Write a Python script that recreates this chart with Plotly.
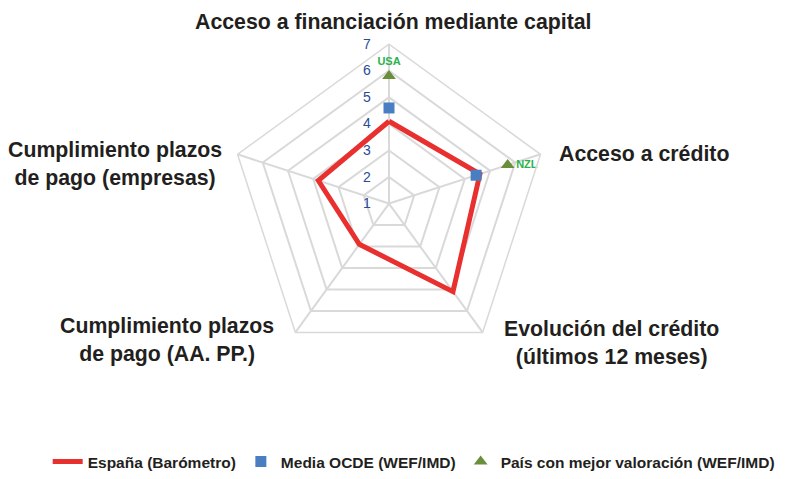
import plotly.graph_objects as go

# --- data ---
categories = [
    "Acceso a financiación mediante capital",
    "Acceso a crédito",
    "Evolución del crédito<br>(últimos 12 meses)",
    "Cumplimiento plazos<br>de pago (AA. PP.)",
    "Cumplimiento plazos<br>de pago (empresas)",
]
espana = [4.1, 4.6, 5.1, 2.9, 3.8]
ocde_cats = categories[:2]
ocde = [4.6, 4.45]
mejor_cats = categories[:2]
mejor = [5.8, 5.7]
mejor_pais = ["USA", "NZL"]
radial_ticks = [1, 2, 3, 4, 5, 6, 7]

# label placement (pixel centre in a 785x479 page)
W, H = 785, 479
label_pos = [(393, 22, "center"), (557, 157, "left"), (611, 349, "center"),
             (167, 346, "center"), (115, 167, "center")]

GRID = "#d9d9d9"
TEXT = "#231f20"
FONT = "Liberation Sans, Arial, sans-serif"

fig = go.Figure()

fig.add_trace(go.Scatterpolar(
    r=espana + espana[:1],
    theta=categories + categories[:1],
    mode="lines",
    line=dict(color="#e8302f", width=5),
    name="España (Barómetro)",
))

fig.add_trace(go.Scatterpolar(
    r=ocde,
    theta=ocde_cats,
    mode="markers",
    marker=dict(symbol="square", size=11, color="#4a7ec2"),
    name="Media OCDE (WEF/IMD)",
))

fig.add_trace(go.Scatterpolar(
    r=mejor,
    theta=mejor_cats,
    mode="markers+text",
    text=mejor_pais,
    textposition=["top center", "middle right"],
    textfont=dict(color="#2bb24c", size=11, family=FONT, weight="bold"),
    marker=dict(symbol="triangle-up", size=12, color="#6a8f3c"),
    name="País con mejor valoración (WEF/IMD)",
))

# centre (389, 207), radius 162 px
cx, cy, rad = 389, 207, 162
pad = "\u00a0" * 4  # push the radial numbers off the vertical spoke
fig.update_layout(
    width=W, height=H,
    margin=dict(l=0, r=0, t=0, b=0),
    paper_bgcolor="white",
    font=dict(family=FONT, color=TEXT),
    polar=dict(
        domain=dict(x=[(cx - rad) / W, (cx + rad) / W],
                    y=[(H - cy - rad) / H, (H - cy + rad) / H]),
        bgcolor="white",
        gridshape="linear",
        angularaxis=dict(
            rotation=90, direction="clockwise",
            showticklabels=False, ticks="",
            gridcolor=GRID, linecolor=GRID, gridwidth=1.5, linewidth=1.5,
        ),
        radialaxis=dict(
            range=[1, 7], tickvals=radial_ticks,
            ticktext=[f"{t}{pad}" for t in radial_ticks],
            angle=90, tickangle=90, side="counterclockwise",
            showline=False, ticks="",
            gridcolor=GRID, gridwidth=1.5,
            tickfont=dict(color="#2b4b98", size=14, family=FONT),
        ),
    ),
    legend=dict(
        orientation="h", x=0.527, xanchor="center", y=0.019, yanchor="middle",
        font=dict(size=15.5, color=TEXT, family=FONT, weight="bold"),
    ),
    showlegend=True,
)

for cat, (px, py, align) in zip(categories, label_pos):
    fig.add_annotation(
        x=px / W, y=1 - py / H, xref="paper", yref="paper",
        text=cat, showarrow=False,
        xanchor=align, yanchor="middle", align="center",
        font=dict(size=21.3, color=TEXT, family=FONT, weight="bold"),
    )

# page body has a default 8px margin; drop it so the figure sits at (0, 0)
fig.write_html("out.html", config={"displayModeBar": False},
               post_script="document.body.style.margin='0';")
